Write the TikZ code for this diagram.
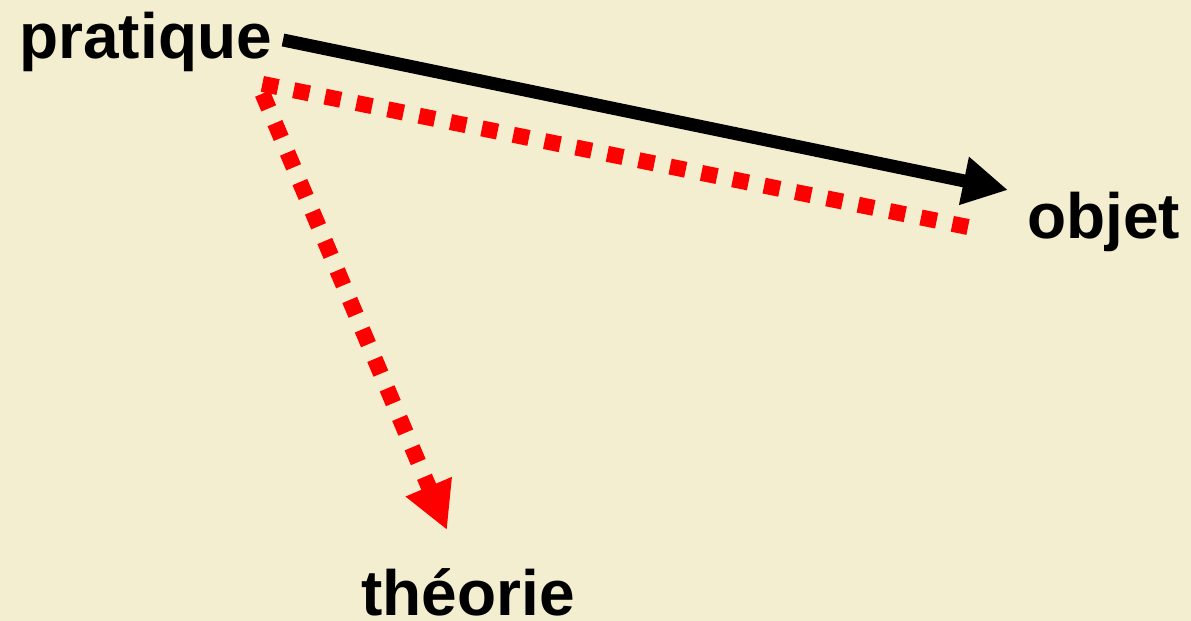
\documentclass[tikz,border=0pt]{standalone}
\usepackage{fontspec}
\setmainfont{Liberation Sans}
\usetikzlibrary{arrows.meta}
\definecolor{parchment}{HTML}{F3EECF}
\definecolor{redline}{HTML}{FF0000}

\begin{document}
\begin{tikzpicture}[
  x=0.5pt, y=-0.5pt,
  lbl/.style={font=\fontsize{32}{38}\selectfont\bfseries, inner sep=0pt, anchor=base west},
  blackarr/.style={-{Triangle[length=22.5pt, width=23pt]}, line width=6.5pt},
  redarr/.style={-{Triangle[length=23.5pt, width=23.5pt]}, draw=redline, line width=8pt, dash pattern=on 8pt off 8pt, line join=miter}
]
\fill[parchment] (0,0) rectangle (1191,621);
\useasboundingbox (0,0) rectangle (1191,621);
\node[lbl] (prat) at (19,58) {pratique};
\node[lbl] (obj) at (1027,238) {objet};
\node[lbl] (theo) at (361,615) {théorie};
% free ends of the arrows
\coordinate (pstart) at (283,40);
\coordinate (otip) at (1008,190);
\coordinate (oend) at (968,227);
\coordinate (corner) at (258,83);
\coordinate (ttip) at (447,530);
\draw[blackarr] (pstart) -- (otip);
\draw[redarr] (oend) -- (corner) -- (ttip);
\end{tikzpicture}
\end{document}
